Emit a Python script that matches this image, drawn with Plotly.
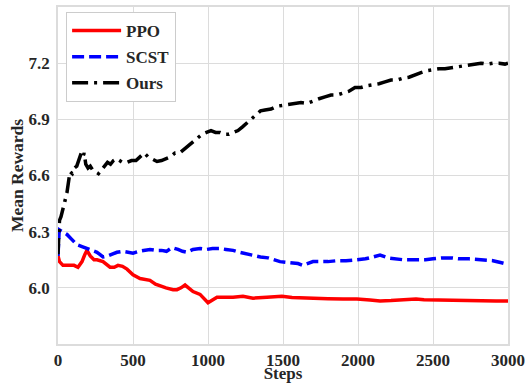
import plotly.graph_objects as go

ppo_steps = [0, 10, 33, 70, 107, 133, 160, 180, 193, 215, 240, 260, 300, 347, 375, 400, 430, 460, 500, 547, 580, 613, 650, 680, 720, 767, 793, 820, 847, 870, 900, 947, 975, 1000, 1030, 1060, 1100, 1167, 1233, 1270, 1300, 1393, 1493, 1560, 1633, 1700, 1800, 1900, 1993, 2080, 2147, 2220, 2300, 2387, 2440, 2500, 2580, 2660, 2750, 2850, 2920, 3000]
ppo_vals = [6.17, 6.14, 6.12, 6.12, 6.12, 6.11, 6.14, 6.18, 6.20, 6.17, 6.15, 6.15, 6.14, 6.11, 6.11, 6.12, 6.115, 6.10, 6.07, 6.05, 6.045, 6.04, 6.02, 6.01, 6.00, 5.99, 5.99, 6.00, 6.015, 6.00, 5.98, 5.965, 5.94, 5.92, 5.935, 5.95, 5.95, 5.95, 5.955, 5.95, 5.945, 5.95, 5.955, 5.948, 5.945, 5.943, 5.942, 5.94, 5.94, 5.935, 5.93, 5.932, 5.935, 5.94, 5.936, 5.935, 5.932, 5.93, 5.93, 5.928, 5.93, 5.93]

scst_steps = [0, 8, 30, 60, 90, 127, 160, 193, 230, 260, 285, 300, 330, 360, 393, 430, 470, 500, 540, 580, 613, 650, 690, 723, 760, 800, 830, 860, 900, 947, 990, 1030, 1080, 1120, 1167, 1210, 1260, 1300, 1350, 1400, 1440, 1480, 1540, 1600, 1633, 1660, 1700, 1747, 1800, 1860, 1920, 1993, 2050, 2100, 2147, 2200, 2250, 2300, 2350, 2400, 2450, 2500, 2560, 2620, 2673, 2740, 2800, 2847, 2900, 2950, 3000]
scst_vals = [6.17, 6.31, 6.30, 6.285, 6.26, 6.23, 6.22, 6.21, 6.20, 6.19, 6.175, 6.165, 6.17, 6.18, 6.19, 6.195, 6.19, 6.185, 6.195, 6.20, 6.205, 6.20, 6.20, 6.195, 6.215, 6.205, 6.195, 6.19, 6.205, 6.21, 6.205, 6.21, 6.21, 6.205, 6.20, 6.19, 6.18, 6.175, 6.165, 6.16, 6.15, 6.14, 6.135, 6.13, 6.12, 6.13, 6.14, 6.14, 6.14, 6.145, 6.145, 6.15, 6.155, 6.165, 6.175, 6.16, 6.155, 6.15, 6.15, 6.15, 6.15, 6.155, 6.16, 6.16, 6.155, 6.155, 6.15, 6.15, 6.145, 6.135, 6.125]

ours_steps = [0, 5, 10, 20, 30, 45, 60, 70, 80, 95, 110, 125, 140, 155, 165, 175, 185, 200, 215, 230, 250, 270, 290, 310, 330, 350, 370, 390, 410, 430, 460, 490, 520, 550, 575, 600, 630, 660, 690, 720, 750, 780, 810, 840, 870, 900, 930, 960, 990, 1020, 1050, 1080, 1110, 1140, 1170, 1200, 1230, 1260, 1290, 1320, 1350, 1380, 1420, 1460, 1500, 1540, 1580, 1620, 1660, 1700, 1740, 1780, 1820, 1860, 1900, 1940, 1980, 2020, 2060, 2100, 2140, 2180, 2220, 2260, 2300, 2340, 2380, 2420, 2460, 2500, 2540, 2580, 2620, 2660, 2700, 2740, 2780, 2820, 2860, 2900, 2940, 2980, 3000]
ours_vals = [6.18, 6.30, 6.36, 6.38, 6.42, 6.46, 6.51, 6.56, 6.62, 6.61, 6.64, 6.65, 6.69, 6.72, 6.70, 6.72, 6.66, 6.64, 6.65, 6.63, 6.62, 6.61, 6.63, 6.65, 6.67, 6.66, 6.68, 6.69, 6.68, 6.67, 6.67, 6.68, 6.68, 6.70, 6.72, 6.70, 6.69, 6.675, 6.68, 6.69, 6.70, 6.72, 6.72, 6.74, 6.76, 6.78, 6.80, 6.82, 6.83, 6.84, 6.83, 6.83, 6.82, 6.82, 6.83, 6.84, 6.86, 6.88, 6.90, 6.92, 6.945, 6.95, 6.955, 6.97, 6.975, 6.98, 6.985, 6.99, 6.985, 7.00, 7.01, 7.02, 7.03, 7.03, 7.04, 7.05, 7.07, 7.07, 7.08, 7.085, 7.09, 7.10, 7.11, 7.11, 7.12, 7.125, 7.14, 7.15, 7.16, 7.165, 7.17, 7.17, 7.175, 7.18, 7.185, 7.19, 7.195, 7.20, 7.195, 7.20, 7.20, 7.195, 7.20]

x_ticks = [0, 500, 1000, 1500, 2000, 2500, 3000]
y_ticks = [6.0, 6.3, 6.6, 6.9, 7.2]
y_tick_labels = ["6.0", "6.3", "6.6", "6.9", "7.2"]

FONT = "Liberation Serif, Times New Roman, serif"

fig = go.Figure()
fig.add_trace(go.Scatter(x=ppo_steps, y=ppo_vals, mode="lines", name="PPO", legendgroup="a",
                         line=dict(color="#ff0000", width=3.5, dash="solid")))
fig.add_trace(go.Scatter(x=scst_steps, y=scst_vals, mode="lines", name="SCST", legendgroup="b",
                         line=dict(color="#0000ff", width=3.5, dash="12px,5px")))
fig.add_trace(go.Scatter(x=ours_steps, y=ours_vals, mode="lines", name="Ours", legendgroup="c",
                         line=dict(color="#000000", width=3.5, dash="16px,6px,3px,6px")))

fig.update_layout(
    width=527, height=383,
    margin=dict(l=58, r=19, t=7, b=39),
    paper_bgcolor="white", plot_bgcolor="white",
    font=dict(family=FONT, size=17, color="#262626", weight="bold"),
    legend=dict(x=0.018, y=0.985, xanchor="left", yanchor="top",
                bgcolor="white", bordercolor="#cccccc", borderwidth=1,
                font=dict(family=FONT, size=17, color="#262626", weight="bold"),
                itemwidth=49, tracegroupgap=1),
    xaxis=dict(range=[0, 3000], tickvals=x_ticks, showgrid=True, gridcolor="#dcdcdc", gridwidth=1.2,
               showline=True, mirror=True, linecolor="#dcdcdc", linewidth=1.5, zeroline=False,
               ticks="", ticklen=0, ticklabelstandoff=0, automargin=False,
               title=dict(text="Steps", font=dict(size=17, weight="bold"), standoff=3)),
    yaxis=dict(range=[5.7, 7.5], tickvals=y_ticks, ticktext=y_tick_labels, showgrid=True,
               gridcolor="#dcdcdc", gridwidth=1.2,
               showline=True, mirror=True, linecolor="#dcdcdc", linewidth=1.5, zeroline=False,
               ticks="", ticklen=0, ticklabelstandoff=3, automargin=False,
               title=dict(text="Mean Rewards", font=dict(size=17.5, weight="bold"), standoff=0)),
    showlegend=True,
)

fig.write_html("out.html", config={"displayModeBar": False},
               post_script="document.body.style.margin='0';")
